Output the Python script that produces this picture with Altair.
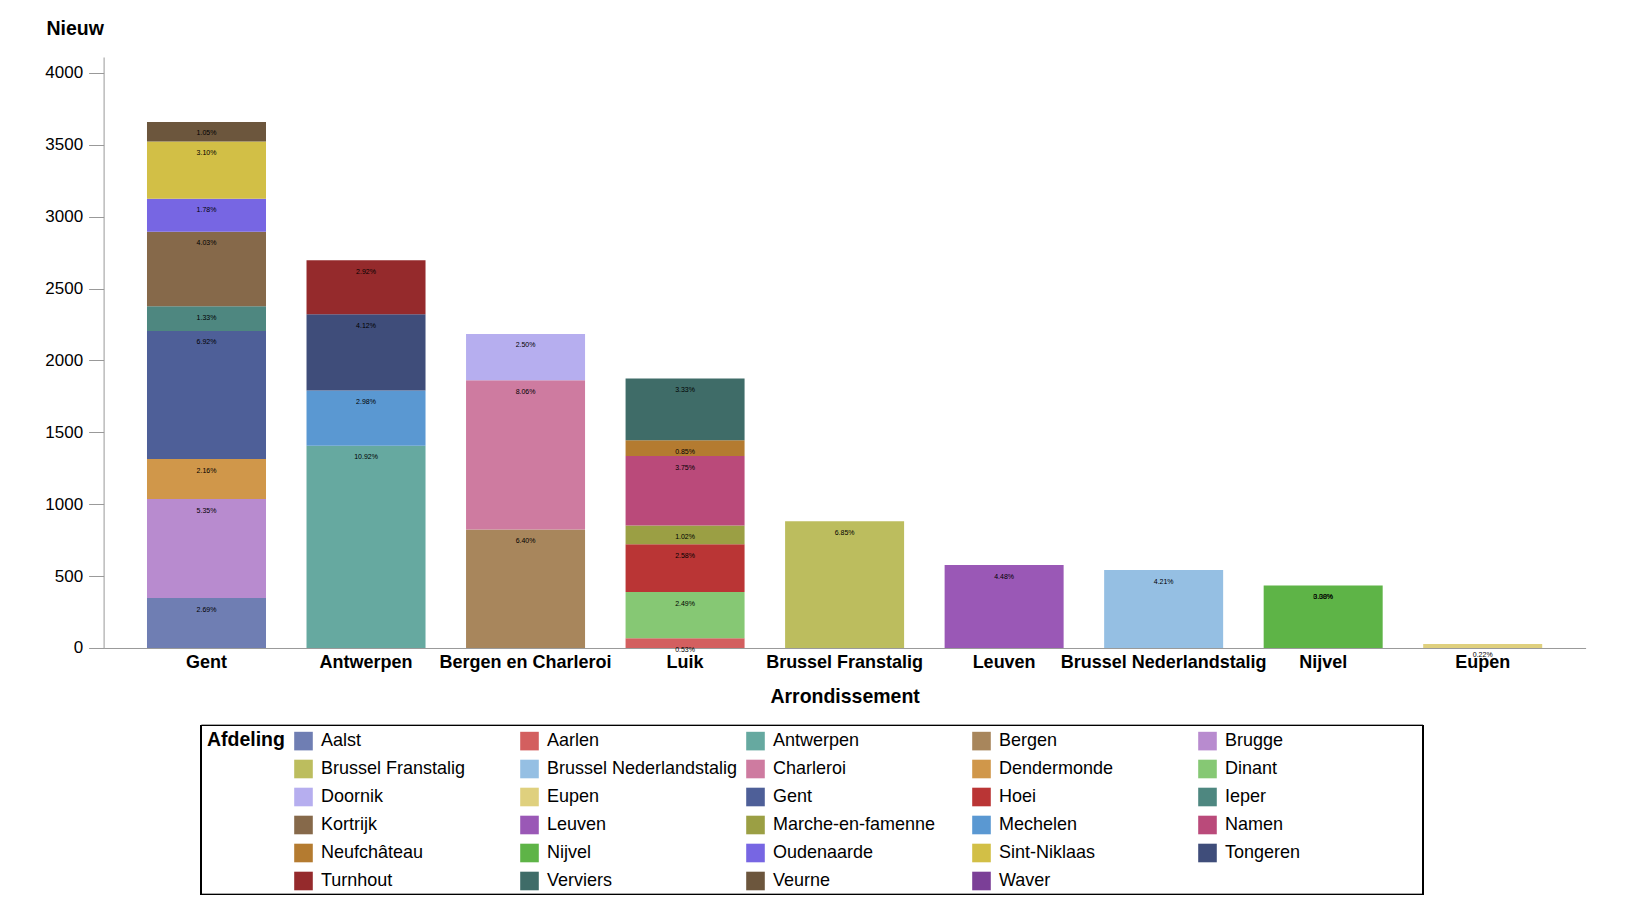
import altair as alt
import pandas as pd

FONT = "Liberation Sans"

arrondissementen = ["Gent", "Antwerpen", "Bergen en Charleroi", "Luik", "Brussel Franstalig",
                    "Leuven", "Brussel Nederlandstalig", "Nijvel", "Eupen"]

afdelingen = ["Aalst", "Aarlen", "Antwerpen", "Bergen", "Brugge", "Brussel Franstalig",
              "Brussel Nederlandstalig", "Charleroi", "Dendermonde", "Dinant", "Doornik", "Eupen",
              "Gent", "Hoei", "Ieper", "Kortrijk", "Leuven", "Marche-en-famenne", "Mechelen",
              "Namen", "Neufchâteau", "Nijvel", "Oudenaarde", "Sint-Niklaas", "Tongeren",
              "Turnhout", "Verviers", "Veurne", "Waver"]

afdeling_arr = ["Gent", "Luik", "Antwerpen", "Bergen en Charleroi", "Gent", "Brussel Franstalig",
                "Brussel Nederlandstalig", "Bergen en Charleroi", "Gent", "Luik",
                "Bergen en Charleroi", "Eupen", "Gent", "Luik", "Gent", "Gent", "Leuven", "Luik",
                "Antwerpen", "Luik", "Luik", "Nijvel", "Gent", "Gent", "Antwerpen", "Antwerpen",
                "Luik", "Gent", "Nijvel"]

nieuw = [347, 68, 1406, 824, 689, 882, 542, 1038, 278, 321, 322, 28, 891, 332, 171, 519, 577,
         131, 384, 483, 110, 435, 229, 399, 531, 376, 429, 135, 0]

kleuren = ["#6F7EB3", "#D35F5F", "#66A9A0", "#A8865C", "#B88BCF", "#BCBD5E", "#95BFE3",
           "#CE7BA0", "#D0974A", "#86C874", "#B6AEEF", "#DFD07E", "#4E5F98", "#BA3535",
           "#4E8780", "#86694A", "#9A58B6", "#9B9F44", "#5A98D2", "#BA4A7A", "#B47B30",
           "#5EB447", "#7766E3", "#D2BF46", "#3F4D7A", "#952A2C", "#3F6C68", "#6C563D",
           "#7B3F97"]

y_ticks = [0, 500, 1000, 1500, 2000, 2500, 3000, 3500, 4000]

df = pd.DataFrame({"Afdeling": afdelingen, "Arrondissement": afdeling_arr, "Nieuw": nieuw})

base = alt.Chart(df).transform_joinaggregate(
    Totaal="sum(Nieuw)"
).transform_calculate(
    Pct="datum.Nieuw / datum.Totaal"
).transform_stack(
    stack="Nieuw", groupby=["Arrondissement"],
    sort=[alt.SortField("Afdeling", order="ascending")], as_=["y0", "y1"]
)

x_enc = alt.X("Arrondissement:N", sort=arrondissementen, title="Arrondissement",
              scale=alt.Scale(paddingInner=0.254, paddingOuter=0.272),
              axis=alt.Axis(labelAngle=0, ticks=False, labelFont=FONT, labelFontSize=18,
                            labelFontWeight="bold", labelColor="black", labelPadding=6,
                            labelLimit=400,
                            titleFont=FONT, titleFontSize=19.5, titleFontWeight="bold",
                            titleColor="black", titlePadding=16, domainColor="#999999"))

bars = base.mark_bar().encode(
    x=x_enc,
    y=alt.Y("y1:Q", title="Nieuw",
            scale=alt.Scale(domain=[0, 4110], nice=False),
            axis=alt.Axis(values=y_ticks, format="d", grid=False, labelFont=FONT,
                          labelFontSize=17, labelColor="black", tickColor="#999999",
                          tickSize=15, labelPadding=6, domainColor="#999999",
                          titleAngle=0, titleAlign="center", titleX=-29, titleY=-23,
                          titleFont=FONT, titleFontSize=19.5, titleFontWeight="bold",
                          titleColor="black", titleBaseline="alphabetic")),
    y2="y0:Q",
    color=alt.Color("Afdeling:N",
                    scale=alt.Scale(domain=afdelingen, range=kleuren),
                    legend=alt.Legend(title="Afdeling", orient="none", legendX=97.4,
                                      legendY=668.5, columns=5, direction="horizontal",
                                      gridAlign="all",
                                      symbolType="square", symbolSize=346,
                                      symbolStrokeWidth=0, labelFont=FONT, labelFontSize=18,
                                      labelColor="black", titleFont=FONT, titleFontSize=19.5,
                                      titleFontWeight="bold", titleColor="black",
                                      titleOrient="left", titleAnchor="start",
                                      titleBaseline="top", padding=6, columnPadding=8,
                                      rowPadding=9, labelOffset=8, titlePadding=9,
                                      labelLimit=300)),
)

labels = base.mark_text(fontSize=7, font=FONT, color="black", baseline="middle", dy=11.5).encode(
    x=alt.X("Arrondissement:N", sort=arrondissementen),
    y=alt.Y("y1:Q"),
    text=alt.Text("Pct:Q", format=".2%"),
)

# legend frame
frame = alt.Chart(df).mark_rect(fill=None, stroke="black", strokeWidth=1, clip=False).encode(
    x=alt.value(97.5), x2=alt.value(1319.5), y=alt.value(668.5), y2=alt.value(837.5)
)

chart = alt.layer(bars, labels, frame).properties(
    width=1482, height=591,
    background="white",
    autosize=alt.AutoSizeParams(type="none"),
    padding={"left": 95.6, "top": 49, "right": 30, "bottom": 250},
).configure_view(strokeWidth=0)

chart.save("out.html", embed_options={"renderer": "svg", "actions": False})
